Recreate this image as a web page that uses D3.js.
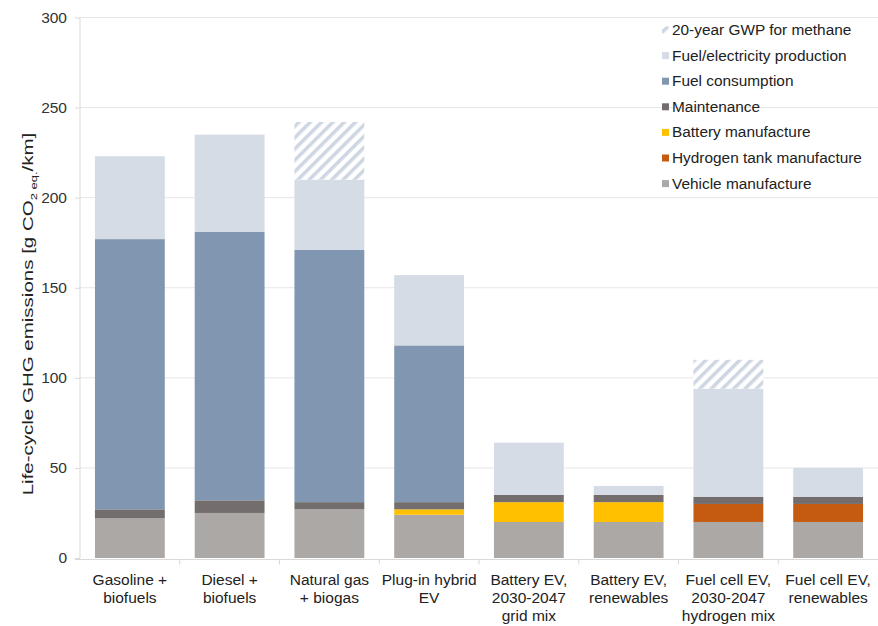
<!DOCTYPE html>
<meta charset="utf-8">
<style>
body { margin: 0; background: #fff; font-family: "Liberation Sans", Arial, sans-serif; }
.grid line { stroke: #e6e6e6; }
.axis path, .axis line { stroke: #d9d9d9; }
.axis text { fill: #333; font-size: 15.5px; font-family: "Liberation Sans", Arial, sans-serif; }
</style>
<body>
<script src="https://cdnjs.cloudflare.com/ajax/libs/d3/7.8.5/d3.min.js"></script>
<script>
var categories = [
  ["Gasoline +", "biofuels"],
  ["Diesel +", "biofuels"],
  ["Natural gas", "+ biogas"],
  ["Plug-in hybrid", "EV"],
  ["Battery EV,", "2030-2047", "grid mix"],
  ["Battery EV,", "renewables"],
  ["Fuel cell EV,", "2030-2047", "hydrogen mix"],
  ["Fuel cell EV,", "renewables"]
];

// stacked from the bottom up
var vehicleManufacture = [22, 25, 27, 24, 20, 20, 20, 20];
var hydrogenTank       = [0, 0, 0, 0, 0, 0, 10, 10];
var batteryManufacture = [0, 0, 0, 3, 11, 11, 0, 0];
var maintenance        = [5, 7, 4, 4, 4, 4, 4, 4];
var fuelConsumption    = [150, 149, 140, 87, 0, 0, 0, 0];
var fuelProduction     = [46, 54, 39, 39, 29, 5, 60, 16];
var methaneGwp20       = [0, 0, 32, 0, 0, 0, 16, 0];

var yTicks = [0, 50, 100, 150, 200, 250, 300];

var series = [
  {name: "Vehicle manufacture", values: vehicleManufacture, color: "#aca8a6"},
  {name: "Hydrogen tank manufacture", values: hydrogenTank, color: "#c55a11"},
  {name: "Battery manufacture", values: batteryManufacture, color: "#ffc000"},
  {name: "Maintenance", values: maintenance, color: "#736e6d"},
  {name: "Fuel consumption", values: fuelConsumption, color: "#8196b0"},
  {name: "Fuel/electricity production", values: fuelProduction, color: "#d5dce6"},
  {name: "20-year GWP for methane", values: methaneGwp20, color: "url(#hatch)"}
];

var W = 878, H = 626;
var x0 = 80, x1 = 878, yBottom = 558, yTop = 17.5;

var svg = d3.select("body").append("svg").attr("width", W).attr("height", H);

var defs = svg.append("defs");
var pat = defs.append("pattern")
    .attr("id", "hatch")
    .attr("patternUnits", "userSpaceOnUse")
    .attr("width", 8).attr("height", 8)
    .attr("patternTransform", "rotate(45)");
pat.append("rect").attr("width", 8).attr("height", 8).attr("fill", "#fff");
pat.append("rect").attr("x", 0).attr("width", 3.5).attr("height", 8).attr("fill", "#cdd6e2");

var x = d3.scaleBand()
    .domain(d3.range(categories.length))
    .range([x0, x1])
    .paddingInner(0.3)
    .paddingOuter(0.15);

var y = d3.scaleLinear().domain([0, 300]).range([yBottom, yTop]);

// grid
svg.append("g").attr("class", "grid")
  .selectAll("line").data(yTicks.slice(1)).enter().append("line")
    .attr("x1", x0).attr("x2", W)
    .attr("y1", function(d) { return y(d); })
    .attr("y2", function(d) { return y(d); });

// stacks
var stackData = categories.map(function(c, i) {
  var o = {i: i};
  series.forEach(function(s) { o[s.name] = s.values[i]; });
  return o;
});
var stacked = d3.stack().keys(series.map(function(s) { return s.name; }))(stackData);

svg.append("g").selectAll("g").data(stacked).enter().append("g")
    .attr("fill", function(d, k) { return series[k].color; })
  .selectAll("rect").data(function(d) { return d; }).enter().append("rect")
    .filter(function(d) { return d[1] - d[0] > 0; })
    .attr("x", function(d) { return x(d.data.i); })
    .attr("width", x.bandwidth())
    .attr("y", function(d) { return y(d[1]); })
    .attr("height", function(d) { return y(d[0]) - y(d[1]); });

// y axis
var yAxis = svg.append("g").attr("class", "axis")
    .attr("transform", "translate(" + x0 + ",0)")
    .call(d3.axisLeft(y).tickValues(yTicks).tickSize(5).tickPadding(8));
yAxis.select(".domain").attr("d", "M0," + yTop + "V" + yBottom);

// x axis
var xAxis = svg.append("g").attr("class", "axis")
    .attr("transform", "translate(0," + (yBottom + 1.5) + ")");
xAxis.append("line").attr("x1", x0 - 5).attr("x2", x1).attr("y1", 0).attr("y2", 0);
xAxis.selectAll(".tk").data(d3.range(1, categories.length)).enter().append("line")
    .attr("class", "tk")
    .attr("x1", function(d) { return x(d) - x.step() * x.paddingInner() / 2; })
    .attr("x2", function(d) { return x(d) - x.step() * x.paddingInner() / 2; })
    .attr("y1", 0).attr("y2", 5);

var lab = svg.append("g").selectAll("text").data(categories).enter().append("text")
    .attr("text-anchor", "middle")
    .attr("font-size", "15.5px")
    .attr("fill", "#222")
    .attr("x", function(d, i) { return x(i) + x.bandwidth() / 2; })
    .attr("y", 585);
lab.selectAll("tspan").data(function(d) { return d; }).enter().append("tspan")
    .attr("x", function() { return d3.select(this.parentNode).attr("x"); })
    .attr("dy", function(d, j) { return j === 0 ? 0 : 18; })
    .text(function(d) { return d; });

// y title (the source image is horizontally squeezed, so the rotated title is long and thin)
var yt = svg.append("text")
    .attr("transform", "translate(33,314) rotate(-90) scale(1,0.7)")
    .attr("text-anchor", "middle")
    .attr("font-size", "20.5px")
    .attr("fill", "#222");
yt.append("tspan").text("Life-cycle GHG emissions [g CO");
yt.append("tspan").attr("font-size", "13px").attr("dy", 5).text("2 eq.");
yt.append("tspan").attr("dy", -5).text("/km]");

// legend
var legendOrder = series.slice().reverse();
var leg = svg.append("g").selectAll("g").data(legendOrder).enter().append("g")
    .attr("transform", function(d, i) { return "translate(662," + (30 + i * 25.6) + ")"; });
leg.append("rect").attr("x", 0).attr("y", -3.5).attr("width", 7).attr("height", 7)
    .attr("fill", function(d) { return d.color; });
leg.append("text").attr("x", 10).attr("y", 5)
    .attr("font-size", "15.4px").attr("fill", "#222")
    .text(function(d) { return d.name; });
</script>
